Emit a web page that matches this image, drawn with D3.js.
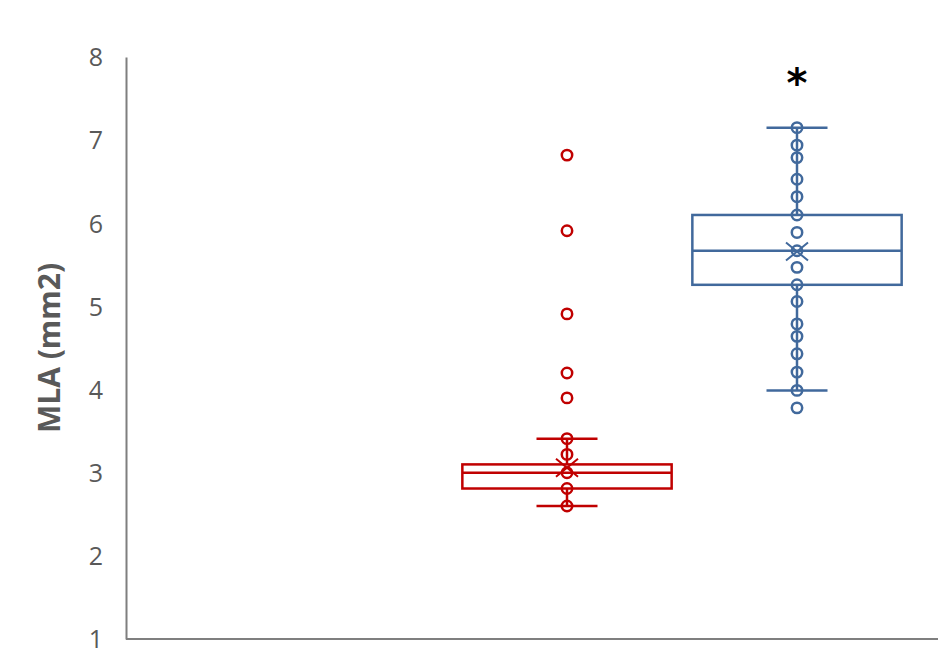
<!DOCTYPE html>
<html>
<head>
<meta charset="utf-8">
<script src="https://cdn.jsdelivr.net/npm/d3@7"></script>
<style>
  body { margin: 0; background: #fff; }
  svg { display: block; font-family: "Open Sans", Lato, sans-serif; }
</style>
</head>
<body>
<svg class="chart" width="938" height="652"></svg>
<script>
const groups = ["Group A", "Group B"]
const colors = ["#C00000", "#41699C"]

// box stats: [min whisker, q1, median, q3, max whisker, mean]
const statsA = [2.6, 2.81, 3.0, 3.1, 3.41, 3.06]
const statsB = [3.99, 5.26, 5.67, 6.1, 7.15, 5.66]

// individual points
const pointsA = [6.82, 5.91, 4.91, 4.2, 3.9, 3.41, 3.22, 3.0, 2.81, 2.6]
const pointsB = [7.15, 6.94, 6.79, 6.53, 6.32, 6.1, 5.89, 5.67, 5.47, 5.26, 5.06, 4.79, 4.64, 4.43, 4.21, 3.99, 3.78]

const yTicks = [1, 2, 3, 4, 5, 6, 7, 8]

const svg = d3.select('.chart')

const y = d3.scaleLinear()
  .domain([1, 8])
  .range([639, 57])

const x = d3.scaleBand()
  .domain(groups)
  .range([452, 912])

const boxW = x.bandwidth() * 0.91
const capW = 61

// axes
const yAxis = svg.append('g')
  .attr('transform', 'translate(126,0)')
  .call(d3.axisLeft(y).tickValues(yTicks).tickFormat(d3.format('d')).tickSize(0).tickPadding(23))
yAxis.select('.domain').attr('stroke', '#7f7f7f').attr('stroke-width', 2)
yAxis.selectAll('text')
  .attr('fill', '#595959')
  .style('font-family', '"Open Sans", sans-serif')
  .style('font-size', '25px')
  .attr('dy', '0.35em')

svg.append('line')
  .attr('x1', 126).attr('x2', 938)
  .attr('y1', y(1)).attr('y2', y(1))
  .attr('stroke', '#7f7f7f').attr('stroke-width', 2)

svg.append('text')
  .attr('transform', `translate(60,${y(4.5)}) rotate(-90)`)
  .attr('text-anchor', 'middle')
  .attr('fill', '#595959')
  .style('font-family', '"Open Sans", sans-serif')
  .style('font-size', '30px')
  .style('font-weight', 'bold')
  .text('MLA (mm2)')

const sets = [
  {g: groups[0], s: statsA, pts: pointsA, c: colors[0]},
  {g: groups[1], s: statsB, pts: pointsB, c: colors[1]}
]

sets.forEach(d => {
  const cx = x(d.g) + x.bandwidth() / 2
  const [lo, q1, med, q3, hi, mean] = d.s
  const grp = svg.append('g')
    .attr('stroke', d.c)
    .attr('stroke-width', 2.5)
    .attr('fill', 'none')

  // whiskers
  grp.append('line').attr('x1', cx).attr('x2', cx).attr('y1', y(q3)).attr('y2', y(hi))
  grp.append('line').attr('x1', cx).attr('x2', cx).attr('y1', y(q1)).attr('y2', y(lo))
  grp.append('line').attr('x1', cx - capW / 2).attr('x2', cx + capW / 2).attr('y1', y(hi)).attr('y2', y(hi))
  grp.append('line').attr('x1', cx - capW / 2).attr('x2', cx + capW / 2).attr('y1', y(lo)).attr('y2', y(lo))

  // box
  grp.append('rect')
    .attr('x', cx - boxW / 2).attr('width', boxW)
    .attr('y', y(q3)).attr('height', y(q1) - y(q3))
  grp.append('line')
    .attr('x1', cx - boxW / 2).attr('x2', cx + boxW / 2)
    .attr('y1', y(med)).attr('y2', y(med))

  // points
  grp.selectAll('circle')
    .data(d.pts)
    .join('circle')
    .attr('cx', cx)
    .attr('cy', v => y(v))
    .attr('r', 5.2)

  // mean marker
  const my = y(mean)
  grp.append('path')
    .attr('d', `M${cx - 11},${my - 9}L${cx + 11},${my + 9}M${cx - 11},${my + 9}L${cx + 11},${my - 9}`)
    .attr('stroke-width', 2)
})

// significance mark
svg.append('text')
  .attr('x', x(groups[1]) + x.bandwidth() / 2)
  .attr('y', 97)
  .attr('text-anchor', 'middle')
  .attr('fill', '#000')
  .style('font-family', '"DejaVu Sans", sans-serif')
  .style('font-size', '40px')
  .style('font-weight', 'bold')
  .text('*')
</script>
</body>
</html>
